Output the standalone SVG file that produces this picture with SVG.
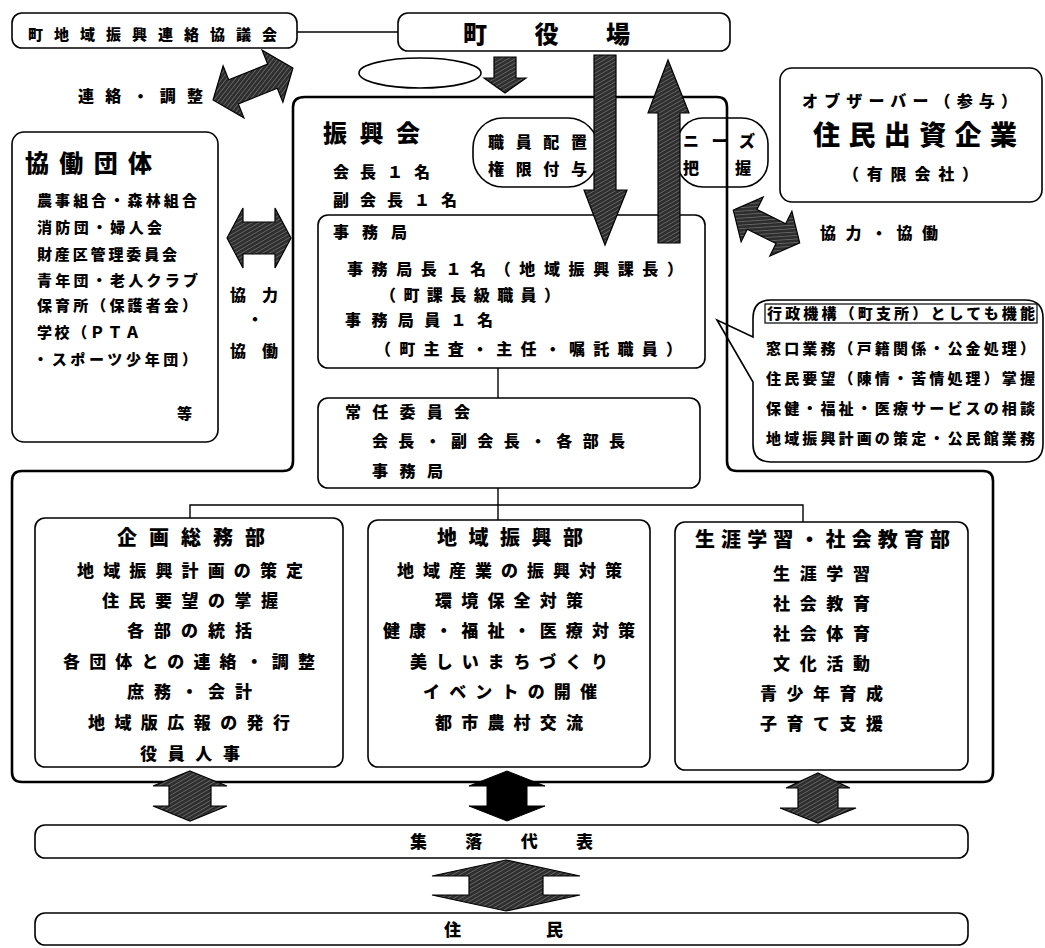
<svg xmlns="http://www.w3.org/2000/svg" width="1045" height="948" viewBox="0 0 1045 948">
<defs>
<pattern id="hatch" width="3.5" height="3.5" patternUnits="userSpaceOnUse" patternTransform="rotate(60)">
<rect width="3.5" height="3.5" fill="#2e2e2e"/>
<line x1="0" y1="0" x2="0" y2="3.5" stroke="#a8a8a8" stroke-width="0.8"/>
</pattern>
<style>
.t{font-family:"Noto Sans CJK JP","Noto Sans CJK SC",sans-serif;font-weight:900;fill:#000}
.s15{font-size:15px}.s16{font-size:16px}.s17{font-size:17px}.s20{font-size:20px}.s24{font-size:24px}.s27{font-size:27px}
.box{fill:#fff;stroke:#000;stroke-width:1.6}
.nf{fill:none;stroke:#000;stroke-width:1.6}
.reg{fill:none;stroke:#000;stroke-width:2.6}
.ha{fill:url(#hatch);stroke:#000;stroke-width:1.2}
.bk{fill:#000;stroke:#000;stroke-width:1}
.ln{stroke:#000;stroke-width:1.4;fill:none}
</style>
</defs>
<rect width="1045" height="948" fill="#fff"/>

<g id="region">
<path class="reg" d="M 305,97 H 717 Q 727,97 727,107 V 461 Q 727,471 737,471 H 983 Q 993,471 993,481 V 772 Q 993,782 983,782 H 22 Q 12,782 12,772 V 481 Q 12,471 22,471 H 283 Q 293,471 293,461 V 107 Q 293,97 305,97 Z"/>
</g>

<g id="connectors">
<line class="ln" x1="297" y1="32" x2="398" y2="32"/>
<line class="ln" x1="498" y1="368" x2="498" y2="398"/>
<line class="ln" x1="498" y1="488" x2="498" y2="520"/>
<polyline class="ln" points="190,518 190,505 803,505 803,522"/>
</g>

<g id="kyogikai">
<rect class="box" x="12" y="13" width="285" height="35" rx="10"/>
<text class="t s15" x="28" y="40" textLength="249" lengthAdjust="spacing">町地域振興連絡協議会</text>
</g>

<g id="yakuba">
<rect class="box" x="398" y="13" width="332" height="38" rx="10"/>
<text class="t s24" x="463" y="43" textLength="167" lengthAdjust="spacing">町　役　場</text>
</g>

<g id="ellipse">
<ellipse class="nf" cx="420" cy="73" rx="61" ry="15"/>
</g>

<g id="kyodo-dantai">
<rect class="box" x="12" y="132" width="206" height="310" rx="12"/>
<text class="t s24" x="25" y="172" textLength="127" lengthAdjust="spacing">協働団体</text>
<text class="t s15" x="37" y="206" textLength="160" lengthAdjust="spacing">農事組合・森林組合</text>
<text class="t s15" x="37" y="233" textLength="125" lengthAdjust="spacing">消防団・婦人会</text>
<text class="t s15" x="37" y="260" textLength="140" lengthAdjust="spacing">財産区管理委員会</text>
<text class="t s15" x="37" y="286" textLength="161" lengthAdjust="spacing">青年団・老人クラブ</text>
<text class="t s15" x="37" y="311" textLength="160" lengthAdjust="spacing">保育所（保護者会）</text>
<text class="t s15" x="37" y="338" textLength="103" lengthAdjust="spacing">学校（ＰＴＡ</text>
<text class="t s15" x="33" y="365" textLength="164" lengthAdjust="spacing">・スポーツ少年団）</text>
<text class="t s15" x="177" y="419">等</text>
</g>

<g id="shinkokai">
<text class="t s24" x="323" y="142" textLength="97" lengthAdjust="spacing">振興会</text>
<text class="t s16" x="333" y="178" textLength="97" lengthAdjust="spacing">会長１名</text>
<text class="t s16" x="333" y="206" textLength="124" lengthAdjust="spacing">副会長１名</text>
</g>

<g id="haichi">
<rect class="nf" x="473" y="118" width="125" height="69" rx="30"/>
<text class="t s16" x="488" y="148" textLength="99" lengthAdjust="spacing">職員配置</text>
<text class="t s16" x="488" y="175" textLength="99" lengthAdjust="spacing">権限付与</text>
</g>

<g id="needs">
<rect class="nf" x="677" y="118" width="91" height="69" rx="26"/>
<text class="t s16" x="683" y="147" textLength="72" lengthAdjust="spacing">ニーズ</text>
<text class="t s16" x="683" y="174">把</text>
<text class="t s16" x="735" y="174">握</text>
</g>

<g id="jimukyoku">
<rect class="box" x="318" y="215" width="387" height="153" rx="10"/>
<text class="t s16" x="333" y="238" textLength="74" lengthAdjust="spacing">事務局</text>
<text class="t s16" x="347" y="275" textLength="336" lengthAdjust="spacing">事務局長１名（地域振興課長）</text>
<text class="t s16" x="380" y="301" textLength="180" lengthAdjust="spacing">（町課長級職員）</text>
<text class="t s16" x="345" y="326" textLength="148" lengthAdjust="spacing">事務局員１名</text>
<text class="t s16" x="375" y="355" textLength="307" lengthAdjust="spacing">（町主査・主任・嘱託職員）</text>
</g>

<g id="arrows-top">
<polygon class="ha" points="494,57 516,57 516,78 526,78 505,93 484,78 494,78"/>
<polygon class="ha" points="594,55 616,55 616,190 627,190 605,245 584,190 594,190"/>
<polygon class="ha" points="658,243 680,243 680,113 689,113 668,60 648,113 658,113"/>
<polygon class="ha" transform="translate(253,84) rotate(-21.8)" points="-43,0 -21,-28 -21,-13 21,-13 21,-28 43,0 21,28 21,13 -21,13 -21,28"/>
<polygon class="ha" transform="translate(766.5,226.5) rotate(26.2)" points="-37,0 -16,-25 -16,-11 16,-11 16,-25 37,0 16,25 16,11 -16,11 -16,25"/>
<polygon class="ha" points="227,238 243,208 243,222 275,222 275,208 291,238 275,268 275,254 243,254 243,268"/>
</g>

<g id="labels">
<text class="t s16" x="78" y="102" textLength="125" lengthAdjust="spacing">連絡・調整</text>
<text class="t s16" x="230" y="301" textLength="48" lengthAdjust="spacing">協力</text>
<text class="t s16" x="247" y="325">・</text>
<text class="t s16" x="230" y="357" textLength="48" lengthAdjust="spacing">協働</text>
<text class="t s16" x="820" y="239" textLength="118" lengthAdjust="spacing">協力・協働</text>
</g>

<g id="observer">
<rect class="box" x="780" y="68" width="262" height="134" rx="12"/>
<text class="t s16" x="802" y="107" textLength="215" lengthAdjust="spacing">オブザーバー（参与）</text>
<text class="t s27" x="813" y="145" textLength="204" lengthAdjust="spacing">住民出資企業</text>
<text class="t s16" x="843" y="180" textLength="135" lengthAdjust="spacing">（有限会社）</text>
</g>

<g id="callout">
<path class="nf" d="M 771,300 H 1025 Q 1043,300 1043,318 V 444 Q 1043,462 1025,462 H 771 Q 753,462 753,444 V 382 L 717,320 L 753,337 V 318 Q 753,300 771,300 Z"/>
<rect x="765" y="304" width="272" height="19" fill="none" stroke="#000" stroke-width="1.2"/>
<text class="t s15" x="767" y="319" textLength="268" lengthAdjust="spacing">行政機構（町支所）としても機能</text>
<text class="t s15" x="766" y="354" textLength="269" lengthAdjust="spacing">窓口業務（戸籍関係・公金処理）</text>
<text class="t s15" x="766" y="384" textLength="269" lengthAdjust="spacing">住民要望（陳情・苦情処理）掌握</text>
<text class="t s15" x="766" y="414" textLength="269" lengthAdjust="spacing">保健・福祉・医療サービスの相談</text>
<text class="t s15" x="766" y="444" textLength="269" lengthAdjust="spacing">地域振興計画の策定・公民館業務</text>
</g>

<g id="joninkai">
<rect class="box" x="318" y="398" width="382" height="90" rx="10"/>
<text class="t s16" x="345" y="418" textLength="125" lengthAdjust="spacing">常任委員会</text>
<text class="t s16" x="372" y="447" textLength="253" lengthAdjust="spacing">会長・副会長・各部長</text>
<text class="t s16" x="372" y="477" textLength="71" lengthAdjust="spacing">事務局</text>
</g>

<g id="kikaku">
<rect class="box" x="35" y="518" width="308" height="249" rx="10"/>
<text class="t s20" x="117" y="545" textLength="148" lengthAdjust="spacing">企画総務部</text>
<text class="t s17" x="77" y="577" textLength="226" lengthAdjust="spacing">地域振興計画の策定</text>
<text class="t s17" x="102" y="607" textLength="176" lengthAdjust="spacing">住民要望の掌握</text>
<text class="t s17" x="127" y="637" textLength="125" lengthAdjust="spacing">各部の統括</text>
<text class="t s17" x="63" y="668" textLength="252" lengthAdjust="spacing">各団体との連絡・調整</text>
<text class="t s17" x="127" y="698" textLength="125" lengthAdjust="spacing">庶務・会計</text>
<text class="t s17" x="88" y="729" textLength="202" lengthAdjust="spacing">地域版広報の発行</text>
<text class="t s17" x="140" y="760" textLength="100" lengthAdjust="spacing">役員人事</text>
</g>

<g id="chiiki">
<rect class="box" x="368" y="520" width="282" height="247" rx="10"/>
<text class="t s20" x="437" y="545" textLength="146" lengthAdjust="spacing">地域振興部</text>
<text class="t s17" x="397" y="577" textLength="225" lengthAdjust="spacing">地域産業の振興対策</text>
<text class="t s17" x="435" y="607" textLength="148" lengthAdjust="spacing">環境保全対策</text>
<text class="t s17" x="383" y="637" textLength="252" lengthAdjust="spacing">健康・福祉・医療対策</text>
<text class="t s17" x="410" y="668" textLength="198" lengthAdjust="spacing">美しいまちづくり</text>
<text class="t s17" x="423" y="698" textLength="174" lengthAdjust="spacing">イベントの開催</text>
<text class="t s17" x="435" y="729" textLength="148" lengthAdjust="spacing">都市農村交流</text>
</g>

<g id="shogai">
<rect class="box" x="675" y="522" width="293" height="248" rx="10"/>
<text class="t s20" x="695" y="547" textLength="255" lengthAdjust="spacing">生涯学習・社会教育部</text>
<text class="t s17" x="773" y="580" textLength="97" lengthAdjust="spacing">生涯学習</text>
<text class="t s17" x="773" y="610" textLength="97" lengthAdjust="spacing">社会教育</text>
<text class="t s17" x="773" y="640" textLength="97" lengthAdjust="spacing">社会体育</text>
<text class="t s17" x="773" y="670" textLength="97" lengthAdjust="spacing">文化活動</text>
<text class="t s17" x="760" y="700" textLength="123" lengthAdjust="spacing">青少年育成</text>
<text class="t s17" x="760" y="730" textLength="123" lengthAdjust="spacing">子育て支援</text>
</g>

<g id="arrows-bottom">
<polygon class="ha" points="190,771 227,786 211,786 211,806 227,806 190,821 153,806 169,806 169,786 153,786"/>
<polygon class="bk" points="507,771 545,786 527,786 527,806 545,806 507,821 469,806 487,806 487,786 469,786"/>
<polygon class="ha" points="818,773 850,788 838,788 838,808 856,808 818,823 780,808 798,808 798,788 786,788"/>
<polygon class="ha" points="506,860 580,876 543,876 543,895 580,895 506,911 432,895 469,895 469,876 432,876"/>
</g>

<g id="shuraku">
<rect class="box" x="35" y="825" width="933" height="33" rx="10"/>
<text class="t s17" x="410" y="848" textLength="183" lengthAdjust="spacing">集　落　代　表</text>
</g>

<g id="jumin">
<rect class="box" x="35" y="913" width="933" height="32" rx="10"/>
<text class="t s17" x="444" y="936" textLength="119" lengthAdjust="spacing">住　　民</text>
</g>
</svg>
